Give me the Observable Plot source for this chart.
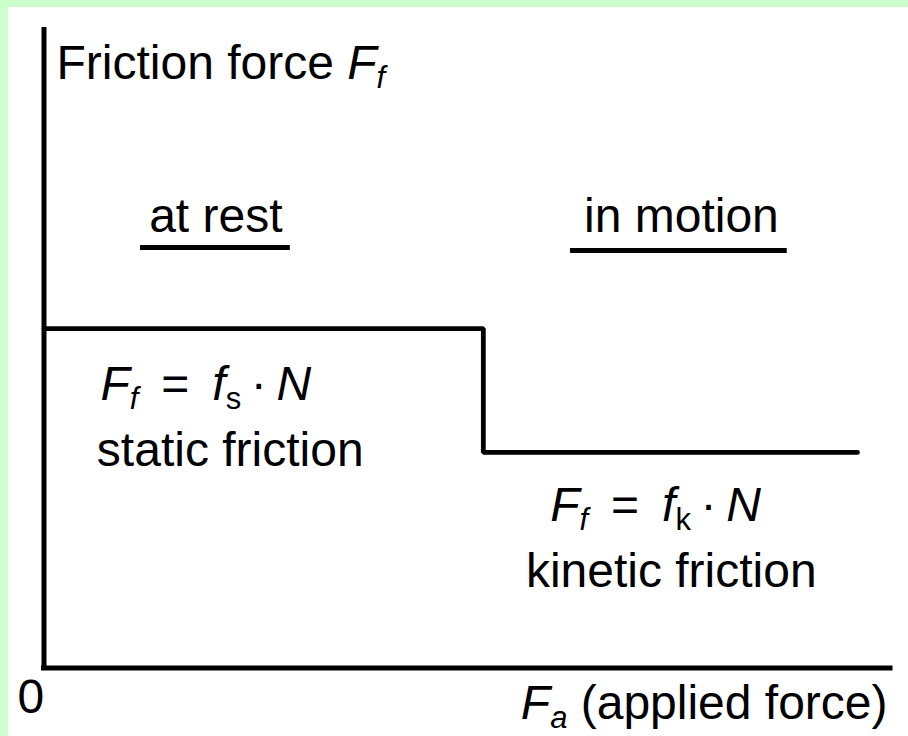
<!DOCTYPE html>
<html><head><meta charset="utf-8">
<script src="https://cdn.jsdelivr.net/npm/d3@7"></script>
<script src="https://cdn.jsdelivr.net/npm/@observablehq/plot@0.6"></script>
<style>
html,body{margin:0;padding:0;background:#fff;}
#chart{position:relative;width:908px;height:736px;background:#fff;box-shadow:inset 8px 7px 0 0 #ccffcc;}
#chart svg{display:block;position:absolute;left:0;top:0;}
#chart text{white-space:pre;}
</style></head><body><div id="chart"></div>
<script>
// ---- data (force units, both axes span 0..10) ----
const appliedForce  = [0, 5.19, 5.19, 9.61];
const frictionForce = [5.30, 5.30, 3.365, 3.365];

const regimeLabels  = ["at rest", "in motion"];
const regimeX       = [2.03, 7.53];
const regimeY       = [6.80, 6.80];
const underlineX1   = [1.14, 6.22];
const underlineX2   = [2.91, 8.78];
const underlineY    = [6.565, 6.52];

const descLabels    = ["static friction", "kinetic friction"];
const descX         = [2.20, 7.41];
const descY         = [3.16, 1.257];

const originLabel   = ["0"];
const originX       = [-0.154];
const originY       = [-0.695];

// rich labels: [text, style] where style: "" normal, "i" italic, "s" subscript, "is" italic subscript
const titleParts    = [["Friction force ", ""], ["F", "i"], ["f", "is"]];
const staticEq      = [["F", "i"], ["f", "is"], [" \u2009=\u2009 ", ""], ["f", "i"], ["s", "s"], ["\u2009\u00b7\u2009", ""], ["N", "i"]];
const kineticEq     = [["F", "i"], ["f", "is"], [" \u2009=\u2009 ", ""], ["f", "i"], ["k", "s"], ["\u2009\u00b7\u2009", ""], ["N", "i"]];
const xLabelParts   = [["F", "i"], ["a", "is"], [" (applied force)", ""]];

const startLabels = [
  {parts: titleParts, x: 0.148, y: 9.19},
  {parts: staticEq,   x: 0.667, y: 4.18},
  {parts: kineticEq,  x: 5.98,  y: 2.30}
];
const endLabels = [
  {parts: xLabelParts, x: 9.965, y: -0.80}
];

const FS = 48;
const plain = d => d.parts.map(p => p[0]).join("");
const partsByText = new Map([...startLabels, ...endLabels].map(d => [plain(d), d.parts]));

const step = appliedForce.map((x, i) => ({x, y: frictionForce[i]}));

const chart = Plot.plot({
  width: 908,
  height: 736,
  marginLeft: 43.5,
  marginRight: 18,
  marginTop: 27,
  marginBottom: 68.5,
  x: {domain: [0, 10], axis: null},
  y: {domain: [0, 10], axis: null},
  style: {fontFamily: "'Liberation Sans', Arial, sans-serif", background: "transparent", color: "#000"},
  marks: [
    Plot.ruleX([0], {y1: 0, y2: 10, stroke: "#000", strokeWidth: 5}),
    Plot.ruleY([0], {x1: 0, x2: 10, stroke: "#000", strokeWidth: 5, strokeLinecap: "square"}),
    Plot.line(step, {x: "x", y: "y", stroke: "#000", strokeWidth: 4.8, curve: "linear", strokeLinejoin: "miter"}),
    Plot.ruleY(regimeLabels, {x1: (d, i) => underlineX1[i], x2: (d, i) => underlineX2[i], y: (d, i) => underlineY[i], stroke: "#000", strokeWidth: 5}),
    Plot.text(regimeLabels, {x: (d, i) => regimeX[i], y: (d, i) => regimeY[i], text: d => d, textAnchor: "middle", lineAnchor: "bottom", fontSize: FS, fill: "#000"}),
    Plot.text(descLabels, {x: (d, i) => descX[i], y: (d, i) => descY[i], text: d => d, textAnchor: "middle", lineAnchor: "bottom", fontSize: FS, fill: "#000"}),
    Plot.text(originLabel, {x: (d, i) => originX[i], y: (d, i) => originY[i], text: d => d, textAnchor: "middle", lineAnchor: "bottom", fontSize: FS, fill: "#000"}),
    Plot.text(startLabels, {x: "x", y: "y", text: plain, textAnchor: "start", lineAnchor: "bottom", fontSize: FS, fill: "#000"}),
    Plot.text(endLabels, {x: "x", y: "y", text: plain, textAnchor: "end", lineAnchor: "bottom", fontSize: FS, fill: "#000"})
  ]
});

// turn rich labels into tspans (italic / subscript)
const SUB_SHIFT = 9;
d3.select(chart).selectAll("text").each(function () {
  const parts = partsByText.get(this.textContent);
  if (!parts) return;
  this.textContent = "";
  let shift = 0;
  for (const [t, st] of parts) {
    const ts = d3.select(this).append("tspan").text(t);
    const sub = st.includes("s");
    if (st.includes("i")) ts.attr("font-style", "italic");
    if (sub) {
      ts.attr("font-size", Math.round(FS * 0.64));
      if (shift === 0) { ts.attr("dy", SUB_SHIFT); shift = SUB_SHIFT; }
    } else if (shift !== 0) {
      ts.attr("dy", -shift); shift = 0;
    }
  }
});

document.getElementById("chart").appendChild(chart);
</script></body></html>
